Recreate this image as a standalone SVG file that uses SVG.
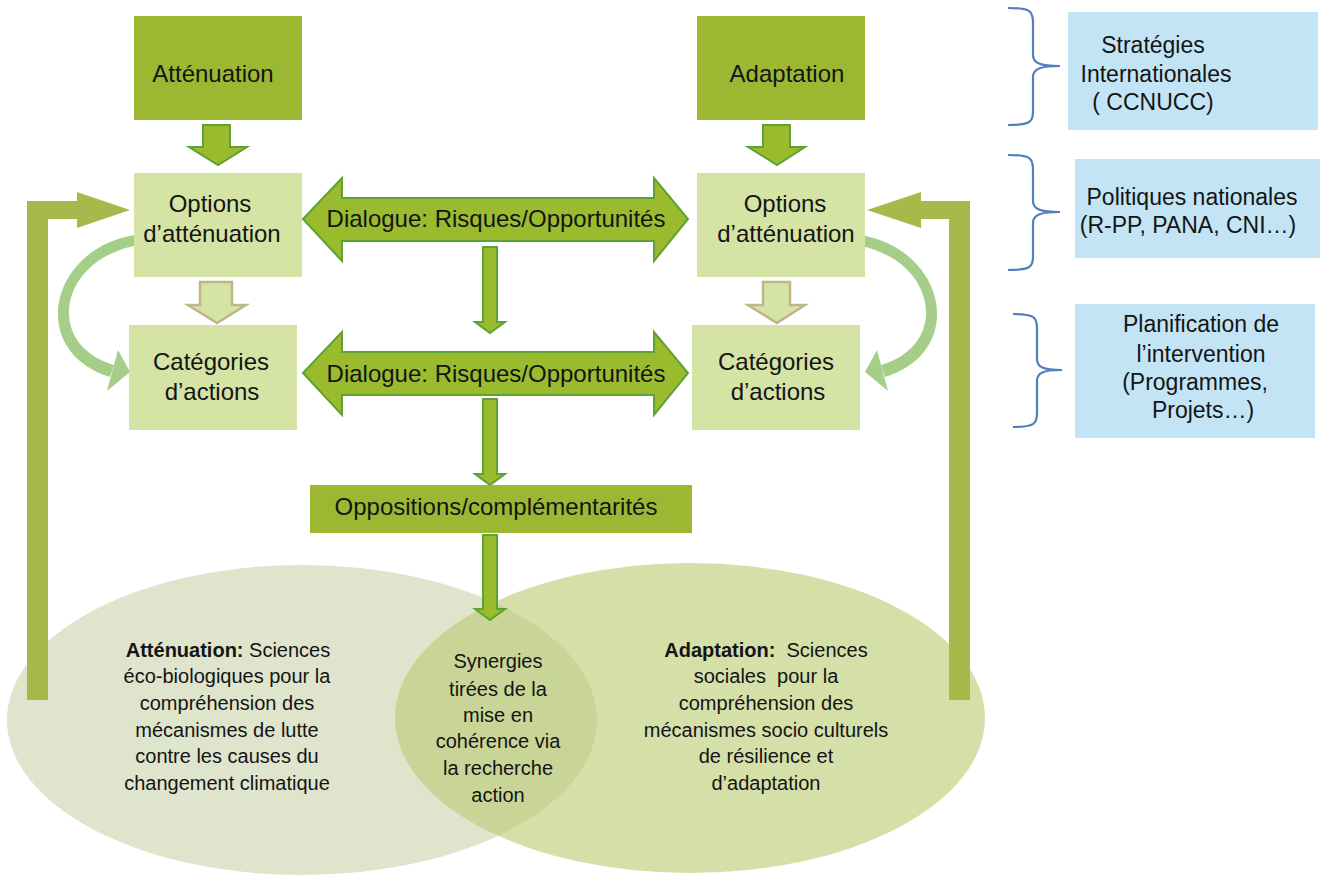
<svg xmlns="http://www.w3.org/2000/svg" width="1322" height="876" viewBox="0 0 1322 876">
  <style>
    text { font-family: "Liberation Sans", Arial, sans-serif; fill: #141414; text-anchor: middle; }
    .t24 { font-size: 24px; }
    .t23 { font-size: 23px; }
    .t20 { font-size: 20px; }
    .pre { white-space: pre; }
    .dark { fill: #9cb833; }
    .light { fill: #d5e3a5; }
    .blue { fill: #c3e4f5; }
    .arrow { fill: #9bbb2f; stroke: #5da233; stroke-width: 2; stroke-linejoin: miter; }
    .tan { fill: #d5e3a5; stroke: #bfb58a; stroke-width: 2.5; }
    .feedback { fill: #a6ba4b; }
    .curve { fill: #a5cf88; }
    .brace { fill: none; stroke: #4f7fc0; stroke-width: 2.2; }
  </style>
  <defs>
    <clipPath id="clipLeft">
      <ellipse cx="302" cy="720" rx="295" ry="155"/>
    </clipPath>
  </defs>

  <rect width="1322" height="876" fill="#ffffff"/>

  <!-- research ellipses and their overlap -->
  <g id="ellipses">
    <ellipse cx="302" cy="720" rx="295" ry="155" fill="#dfe4cc"/>
    <ellipse cx="690" cy="718" rx="295" ry="155" fill="#d5dfa8"/>
    <ellipse cx="690" cy="718" rx="295" ry="155" fill="#c9d597" clip-path="url(#clipLeft)"/>
  </g>

  <!-- connectors -->
  <g id="connectors">
    <!-- top boxes down to options -->
    <polygon class="arrow" points="203,125 230,125 230,147 247,147 218,165 189,147 203,147"/>
    <polygon class="arrow" points="763,125 790,125 790,147 805,147 777,165 748,147 763,147"/>
    <!-- options down to categories -->
    <polygon class="tan" points="200,282 232,282 232,305 246,305 217,323 188,305 200,305"/>
    <polygon class="tan" points="763,282 790,282 790,305 805,305 777,323 748,305 763,305"/>
    <!-- dialogue double arrows -->
    <polygon class="arrow" points="303,219 342,178 342,198 654,198 654,178 688,219 654,261 654,241 342,241 342,261"/>
    <polygon class="arrow" points="303,373 342,332 342,352 654,352 654,332 688,373 654,415 654,395 342,395 342,415"/>
    <!-- central vertical arrows -->
    <polygon class="arrow" points="483,247 497,247 497,322 505,322 490,333 475,322 483,322"/>
    <polygon class="arrow" points="483,399 497,399 497,474 505,474 490,485 475,474 483,474"/>
    <polygon class="arrow" points="483,535 497,535 497,609 505,609 490,620 475,609 483,609"/>
    <!-- feedback arrows from research back to options -->
    <polygon class="feedback" points="27,700 27,201 77,201 77,192 130,210 77,228 77,219 48,219 48,700"/>
    <polygon class="feedback" points="970,700 970,201 921,201 921,192 867,210 921,228 921,219 949,219 949,700"/>
    <!-- curved arrows from options to categories -->
    <path class="curve" d="M134,235 C48,250 28,352 110,377 L114,365 C45,345 58,262 134,246 Z"/>
    <polygon class="curve" points="118,350 130,372 107,391"/>
    <path class="curve" d="M861,235 C947,250 967,352 885,377 L881,365 C950,345 937,262 861,246 Z"/>
    <polygon class="curve" points="877,350 865,372 888,391"/>
  </g>

  <g id="attenuation">
    <rect class="dark" x="134" y="16" width="168" height="104"/>
    <text class="t24" x="213" y="82">Atténuation</text>
  </g>
  <g id="adaptation">
    <rect class="dark" x="697" y="16" width="168" height="104"/>
    <text class="t24" x="787" y="82">Adaptation</text>
  </g>

  <g id="options-left">
    <rect class="light" x="134" y="173" width="168" height="104"/>
    <text class="t24" x="210" y="212">Options</text>
    <text class="t24" x="212" y="242">d’atténuation</text>
  </g>
  <g id="options-right">
    <rect class="light" x="697" y="173" width="168" height="104"/>
    <text class="t24" x="785" y="212">Options</text>
    <text class="t24" x="786" y="242">d’atténuation</text>
  </g>

  <g id="categories-left">
    <rect class="light" x="129" y="325" width="168" height="105"/>
    <text class="t24" x="211" y="370">Catégories</text>
    <text class="t24" x="212" y="400">d’actions</text>
  </g>
  <g id="categories-right">
    <rect class="light" x="692" y="325" width="168" height="105"/>
    <text class="t24" x="776" y="370">Catégories</text>
    <text class="t24" x="778" y="400">d’actions</text>
  </g>

  <g id="dialogue-1">
    <text class="t24" x="496" y="227">Dialogue: Risques/Opportunités</text>
  </g>
  <g id="dialogue-2">
    <text class="t24" x="496" y="382">Dialogue: Risques/Opportunités</text>
  </g>

  <g id="oppositions">
    <rect class="dark" x="310" y="485" width="382" height="48"/>
    <text class="t24" x="496" y="515">Oppositions/complémentarités</text>
  </g>

  <g id="research-attenuation">
    <text class="t20" x="228" y="657"><tspan font-weight="bold">Atténuation:</tspan> Sciences</text>
    <text class="t20" x="227" y="683">éco-biologiques pour la</text>
    <text class="t20" x="227" y="710">compréhension des</text>
    <text class="t20" x="227" y="737">mécanismes de lutte</text>
    <text class="t20" x="227" y="763">contre les causes du</text>
    <text class="t20" x="227" y="790">changement climatique</text>
  </g>

  <g id="synergies">
    <text class="t20" x="498" y="668">Synergies</text>
    <text class="t20" x="498" y="696">tirées de la</text>
    <text class="t20" x="498" y="722">mise en</text>
    <text class="t20" x="498" y="748">cohérence via</text>
    <text class="t20" x="498" y="775">la recherche</text>
    <text class="t20" x="498" y="802">action</text>
  </g>

  <g id="research-adaptation">
    <text class="t20 pre" x="766" y="657"><tspan font-weight="bold">Adaptation:</tspan>  Sciences</text>
    <text class="t20 pre" x="766" y="683">sociales  pour la</text>
    <text class="t20" x="766" y="710">compréhension des</text>
    <text class="t20" x="766" y="737">mécanismes socio culturels</text>
    <text class="t20" x="766" y="763">de résilience et</text>
    <text class="t20" x="766" y="790">d’adaptation</text>
  </g>

  <!-- levels of intervention -->
  <g id="level-international">
    <path class="brace" d="M1008,8 C1030,8 1033,11 1033,22 L1033,55 C1033,63 1040,66 1060,66 C1040,66 1033,69 1033,77 L1033,112 C1033,122 1030,125 1008,125"/>
    <rect class="blue" x="1068" y="12" width="250" height="118"/>
    <text class="t23" x="1153" y="53">Stratégies</text>
    <text class="t23" x="1156" y="82">Internationales</text>
    <text class="t23" x="1153" y="110">( CCNUCC)</text>
  </g>
  <g id="level-national">
    <path class="brace" d="M1008,155 C1030,155 1033,158 1033,169 L1033,201 C1033,209 1040,212 1060,212 C1040,212 1033,215 1033,223 L1033,257 C1033,267 1030,270 1008,270"/>
    <rect class="blue" x="1075" y="159" width="245" height="99"/>
    <text class="t23" x="1192" y="205">Politiques nationales</text>
    <text class="t23" x="1188" y="233">(R-PP, PANA, CNI…)</text>
  </g>
  <g id="level-planning">
    <path class="brace" d="M1013,314 C1034,314 1037,317 1037,328 L1037,359 C1037,367 1043,370 1062,370 C1043,370 1037,373 1037,381 L1037,413 C1037,424 1034,427 1013,427"/>
    <rect class="blue" x="1075" y="304" width="240" height="134"/>
    <text class="t23" x="1201" y="332">Planification de</text>
    <text class="t23" x="1201" y="362">l’intervention</text>
    <text class="t23" x="1195" y="390">(Programmes,</text>
    <text class="t23" x="1203" y="418">Projets…)</text>
  </g>
</svg>
